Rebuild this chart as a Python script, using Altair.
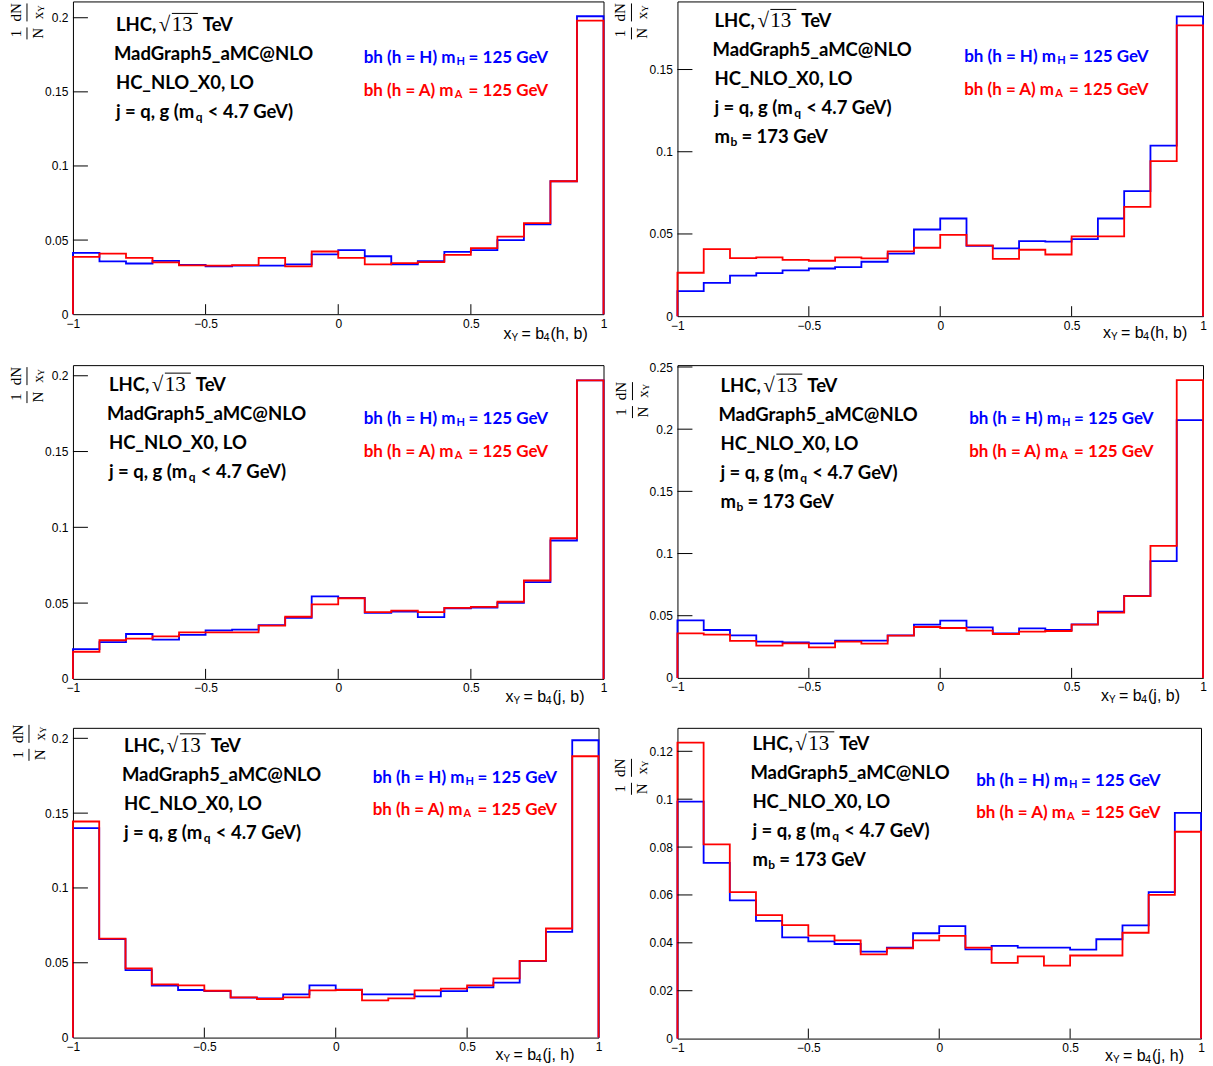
import altair as alt
import pandas as pd

EDGES = [round(-1 + 0.1 * i, 1) for i in range(21)]

# normalised bin contents, 20 bins on [-1, 1]; _H = blue (h = H), _A = red (h = A)
P1_H = [0.0414, 0.0356, 0.0342, 0.0360, 0.0333, 0.0322, 0.0327, 0.0327, 0.0336, 0.0403,
        0.0432, 0.0391, 0.0336, 0.0358, 0.0420, 0.0432, 0.0499, 0.0606, 0.0897, 0.2010]
P1_A = [0.0387, 0.0409, 0.0380, 0.0349, 0.0329, 0.0327, 0.0331, 0.0380, 0.0322, 0.0423,
        0.0380, 0.0336, 0.0344, 0.0351, 0.0400, 0.0445, 0.0523, 0.0615, 0.0897, 0.1980]
P2_H = [0.0152, 0.0203, 0.0247, 0.0262, 0.0278, 0.0290, 0.0298, 0.0331, 0.0381, 0.0527,
        0.0594, 0.0428, 0.0412, 0.0456, 0.0454, 0.0469, 0.0594, 0.0761, 0.1037, 0.1823]
P2_A = [0.0264, 0.0408, 0.0353, 0.0357, 0.0343, 0.0337, 0.0357, 0.0351, 0.0394, 0.0416,
        0.0495, 0.0430, 0.0349, 0.0404, 0.0375, 0.0485, 0.0485, 0.0665, 0.0943, 0.1768]
P3_H = [0.0196, 0.0242, 0.0296, 0.0259, 0.0290, 0.0320, 0.0325, 0.0355, 0.0403, 0.0545,
        0.0534, 0.0436, 0.0444, 0.0407, 0.0466, 0.0471, 0.0502, 0.0638, 0.0913, 0.1970]
P3_A = [0.0179, 0.0255, 0.0266, 0.0281, 0.0307, 0.0307, 0.0307, 0.0351, 0.0410, 0.0492,
        0.0532, 0.0440, 0.0451, 0.0440, 0.0468, 0.0475, 0.0509, 0.0649, 0.0928, 0.1970]
P4_H = [0.0463, 0.0385, 0.0342, 0.0291, 0.0286, 0.0278, 0.0299, 0.0299, 0.0342, 0.0428,
        0.0460, 0.0406, 0.0358, 0.0398, 0.0385, 0.0430, 0.0532, 0.0660, 0.0939, 0.2073]
P4_A = [0.0358, 0.0348, 0.0297, 0.0259, 0.0278, 0.0246, 0.0291, 0.0275, 0.0340, 0.0409,
        0.0401, 0.0380, 0.0353, 0.0372, 0.0377, 0.0428, 0.0524, 0.0658, 0.1061, 0.2395]
P5_H = [0.1400, 0.0658, 0.0451, 0.0347, 0.0318, 0.0311, 0.0267, 0.0262, 0.0289, 0.0349,
        0.0320, 0.0289, 0.0289, 0.0276, 0.0311, 0.0336, 0.0367, 0.0511, 0.0707, 0.1987]
P5_A = [0.1444, 0.0662, 0.0462, 0.0356, 0.0349, 0.0313, 0.0269, 0.0258, 0.0269, 0.0316,
        0.0318, 0.0249, 0.0262, 0.0316, 0.0327, 0.0349, 0.0396, 0.0513, 0.0729, 0.1880]
P6_H = [0.0990, 0.0734, 0.0577, 0.0492, 0.0423, 0.0406, 0.0395, 0.0363, 0.0380, 0.0440,
        0.0470, 0.0373, 0.0387, 0.0380, 0.0380, 0.0372, 0.0415, 0.0473, 0.0612, 0.0943]
P6_A = [0.1236, 0.0811, 0.0612, 0.0516, 0.0474, 0.0430, 0.0410, 0.0352, 0.0377, 0.0410,
        0.0429, 0.0380, 0.0316, 0.0343, 0.0305, 0.0347, 0.0347, 0.0442, 0.0600, 0.0864]

X_TICKS = [-1, -0.5, 0, 0.5, 1]
Y_TICKS_A = [0, 0.05, 0.1, 0.15, 0.2]
Y_TICKS_B = [0, 0.05, 0.1, 0.15]
Y_TICKS_C = [0, 0.05, 0.1, 0.15, 0.2, 0.25]
Y_TICKS_D = [0, 0.02, 0.04, 0.06, 0.08, 0.1, 0.12]

TXT_LHC = ["LHC,", "\u221a", "13", "TeV"]
TXT_MG = "MadGraph5_aMC@NLO"
TXT_MODEL = "HC_NLO_X0, LO"
TXT_JET = ["j = q, g (m", "q", "< 4.7 GeV)"]
TXT_MB = ["m", "b", "= 173 GeV"]
TXT_LEG_H = ["bh (h = H) m", "H", "= 125 GeV"]
TXT_LEG_A = ["bh (h = A) m", "A", "= 125 GeV"]
BLUE = "#0000ff"
RED = "#ff0000"

BOLD_SIZE = 18.5
LEG_SIZE = 17


def hist_df(vals):
    xs = [EDGES[0]] + EDGES[:-1] + [EDGES[-1], EDGES[-1]]
    ys = [0.0] + list(vals) + [vals[-1], 0.0]
    return pd.DataFrame({"x": xs, "y": ys, "i": list(range(len(xs)))})


def axis_kw():
    return dict(ticks=False, domain=False, grid=False, labelFontSize=12,
                labelFont="Liberation Sans", labelColor="black", title=None,
                labelFlush=False, labelOverlap=False, format="~g")


def panel(H, A, w, h, ymax, yv, pair, mb, tx, ty, lx, ly, xtx, xty, ytx, ytt):
    xsc = alt.Scale(domain=[-1, 1], nice=False, zero=False)
    ysc = alt.Scale(domain=[0, ymax], nice=False, zero=False)
    blue = alt.Chart(hist_df(H)).mark_line(color=BLUE, strokeWidth=1.8, interpolate="step-after").encode(
        x=alt.X("x:Q", scale=xsc, axis=alt.Axis(values=X_TICKS, labelPadding=4, **axis_kw())),
        y=alt.Y("y:Q", scale=ysc, axis=alt.Axis(values=yv, labelPadding=5, **axis_kw())),
        order="i:Q")
    red = alt.Chart(hist_df(A)).mark_line(color=RED, strokeWidth=1.8, interpolate="step-after").encode(
        x=alt.X("x:Q", scale=xsc, axis=None), y=alt.Y("y:Q", scale=ysc, axis=None), order="i:Q")
    xt = alt.Chart(pd.DataFrame({"v": X_TICKS[1:-1]})).mark_rule(color="black", strokeWidth=1).encode(
        x=alt.X("v:Q", scale=xsc, axis=None), y=alt.value(h), y2=alt.value(h - 10))
    yt = alt.Chart(pd.DataFrame({"v": yv[1:]})).mark_rule(color="black", strokeWidth=1).encode(
        y=alt.Y("v:Q", scale=ysc, axis=None), x=alt.value(0), x2=alt.value(15))

    bold = []
    sub = 5
    bold.append((TXT_LHC[0], tx, ty, BOLD_SIZE, "black"))
    bold.append((TXT_LHC[3], tx + 87, ty, BOLD_SIZE, "black"))
    bold.append((TXT_MG, tx - 2, ty + 29, BOLD_SIZE, "black"))
    bold.append((TXT_MODEL, tx, ty + 58, BOLD_SIZE, "black"))
    bold.append((TXT_JET[0], tx, ty + 87, BOLD_SIZE, "black"))
    bold.append((TXT_JET[1], tx + 80, ty + 87 + sub, 12, "black"))
    bold.append((TXT_JET[2], tx + 92, ty + 87, BOLD_SIZE, "black"))
    if mb:
        bold.append((TXT_MB[0], tx, ty + 116, BOLD_SIZE, "black"))
        bold.append((TXT_MB[1], tx + 16, ty + 116 + sub, 12, "black"))
        bold.append((TXT_MB[2], tx + 27, ty + 116, BOLD_SIZE, "black"))
    for k, (pieces, col, sx) in enumerate([(TXT_LEG_H, BLUE, 93), (TXT_LEG_A, RED, 91)]):
        yy = ly + 32.5 * k
        bold.append((pieces[0], lx, yy, LEG_SIZE, col))
        bold.append((pieces[1], lx + sx, yy + 4, 11, col))
        bold.append((pieces[2], lx + 105, yy, LEG_SIZE, col))
    bdf = pd.DataFrame(bold, columns=["t", "x", "y", "s", "c"])
    btxt = alt.Chart(bdf).mark_text(font="Lato", fontWeight="bold", align="left", baseline="middle").encode(
        x=alt.X("x:Q", scale=None, axis=None), y=alt.Y("y:Q", scale=None, axis=None), text="t:N",
        size=alt.Size("s:Q", scale=None, legend=None), color=alt.Color("c:N", scale=None, legend=None))

    sdf = pd.DataFrame([(TXT_LHC[1], tx + 43, ty), (TXT_LHC[2], tx + 56, ty)], columns=["t", "x", "y"])
    stxt = alt.Chart(sdf).mark_text(font="Liberation Serif", fontSize=21, align="left", baseline="middle",
                                    color="black").encode(
        x=alt.X("x:Q", scale=None, axis=None), y=alt.Y("y:Q", scale=None, axis=None), text="t:N")

    xdf = pd.DataFrame([("x", xtx, xty, 16), ("Y", xtx + 8, xty + 4, 10), ("= b", xtx + 18, xty, 16),
                        ("4", xtx + 40, xty + 4, 11), (pair, xtx + 47, xty, 16)],
                       columns=["t", "x", "y", "s"])
    xtxt = alt.Chart(xdf).mark_text(font="Liberation Sans", align="left", baseline="middle",
                                    color="black").encode(
        x=alt.X("x:Q", scale=None, axis=None), y=alt.Y("y:Q", scale=None, axis=None), text="t:N",
        size=alt.Size("s:Q", scale=None, legend=None))

    denx = ytx + 22
    ydf = pd.DataFrame([("dN", ytx, ytt + 10, 15), ("1", ytx, ytt + 31, 15), ("x", denx, ytt + 13, 15),
                        ("Y", denx + 3, ytt + 6, 9), ("N", denx, ytt + 31, 15)],
                       columns=["t", "x", "y", "s"])
    ytxt = alt.Chart(ydf).mark_text(font="Liberation Serif", align="center", baseline="middle", angle=270,
                                    color="black").encode(
        x=alt.X("x:Q", scale=None, axis=None), y=alt.Y("y:Q", scale=None, axis=None), text="t:N",
        size=alt.Size("s:Q", scale=None, legend=None))

    barx = ytx + 11
    rdf = pd.DataFrame([(tx + 56, tx + 82, ty - 12, ty - 12),
                        (barx, barx, ytt + 1, ytt + 19),
                        (barx, barx, ytt + 25, ytt + 37)],
                       columns=["x", "x2", "y", "y2"])
    rules = alt.Chart(rdf).mark_rule(color="black", strokeWidth=1).encode(
        x=alt.X("x:Q", scale=None, axis=None), x2="x2:Q",
        y=alt.Y("y:Q", scale=None, axis=None), y2="y2:Q")

    return alt.layer(blue, red, xt, yt, btxt, stxt, xtxt, ytxt, rules).resolve_scale(
        x="independent", y="independent", size="independent", color="independent"
    ).properties(width=w, height=h)


p1 = panel(P1_H, P1_A, 531, 313, 0.211, Y_TICKS_A, "(h, b)", False, 43, 24, 291, 57, 431, 333, -57, 1)
p2 = panel(P2_H, P2_A, 526, 315, 0.1914, Y_TICKS_B, "(h, b)", True, 37, 20, 287, 56, 426, 332, -57, 1)
p3 = panel(P3_H, P3_A, 531, 314, 0.207, Y_TICKS_A, "(j, b)", False, 36, 20, 291, 54, 433, 332, -57, 1)
p4 = panel(P4_H, P4_A, 526, 313, 0.2515, Y_TICKS_C, "(j, b)", True, 43, 21, 292, 54, 424, 331, -56, 16)
p5 = panel(P5_H, P5_A, 526, 310, 0.207, Y_TICKS_A, "(j, h)", False, 51, 18, 300, 50, 423, 327, -55, -4)
p6 = panel(P6_H, P6_A, 524, 311, 0.1298, Y_TICKS_D, "(j, h)", True, 75, 16, 299, 53, 428, 328, -57, 30)

chart = alt.concat(
    p1, p2, p3, p4, p5, p6, columns=2, spacing={"row": 49, "column": 74}, bounds="flush", align="each"
).properties(
    padding={"left": 8, "top": 0, "right": 5, "bottom": 5},
    background="white",
).configure_view(stroke="black", strokeWidth=1)

chart.save("out.html", embed_options={"renderer": "svg", "actions": False})
